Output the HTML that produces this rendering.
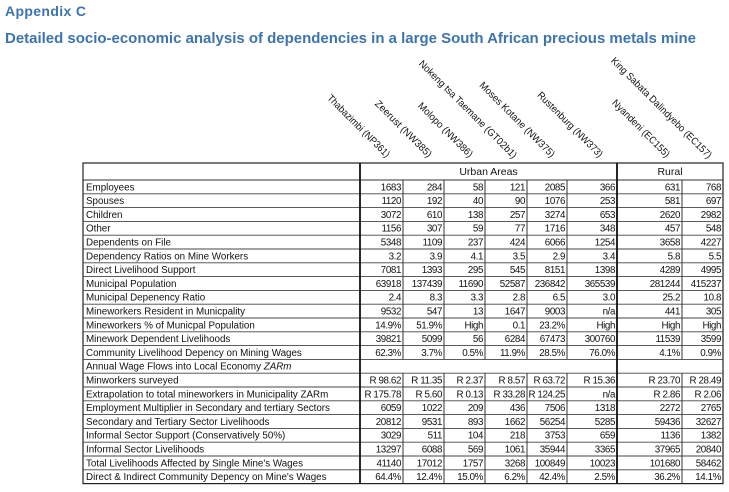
<!DOCTYPE html>
<html><head><meta charset="utf-8"><style>
html,body{margin:0;padding:0;background:#fff;width:729px;height:492px;overflow:hidden}
svg text{font-family:"Liberation Sans Narrow","Liberation Sans",sans-serif}
</style></head><body>
<svg id="s" width="729" height="492" viewBox="0 0 729 492">
<text x="5" y="16" font-size="14" font-weight="bold" fill="#3d74ad" style="font-family:'Liberation Sans',sans-serif" textLength="81">Appendix C</text>
<text x="5" y="43" font-size="15" font-weight="bold" fill="#3d74ad" style="font-family:'Liberation Sans',sans-serif" textLength="691" lengthAdjust="spacingAndGlyphs">Detailed socio-economic analysis of dependencies in a large South African precious metals mine</text>
</svg>
<script>
const columns=["Thabazimbi (NP361)","Zeerust (NW385)","Molopo (NW386)","Nokeng tsa Taemane (GT02b1)","Moses Kotane (NW375)","Rustenburg (NW373)","Nyandeni (EC155)","King Sabata Dalindyebo (EC157)"];
const rowLabels=["Employees","Spouses","Children","Other","Dependents on File","Dependency Ratios on Mine Workers","Direct Livelihood Support","Municipal Population","Municipal Depenency Ratio","Mineworkers Resident in Municpality","Mineworkers % of Municpal Population","Minework Dependent Livelihoods","Community Livelihood Depency on Mining Wages","Annual Wage Flows into Local Economy ZARm","Minworkers surveyed","Extrapolation to total mineworkers in Municipality ZARm","Employment Multiplier in Secondary and tertiary Sectors","Secondary and Tertiary Sector Livelihoods","Informal Sector Support (Conservatively 50%)","Informal Sector Livelihoods","Total Livelihoods Affected by Single Mine's Wages","Direct & Indirect Community Depency on Mine's Wages"];
const values=[
["1683","284","58","121","2085","366","631","768"],
["1120","192","40","90","1076","253","581","697"],
["3072","610","138","257","3274","653","2620","2982"],
["1156","307","59","77","1716","348","457","548"],
["5348","1109","237","424","6066","1254","3658","4227"],
["3.2","3.9","4.1","3.5","2.9","3.4","5.8","5.5"],
["7081","1393","295","545","8151","1398","4289","4995"],
["63918","137439","11690","52587","236842","365539","281244","415237"],
["2.4","8.3","3.3","2.8","6.5","3.0","25.2","10.8"],
["9532","547","13","1647","9003","n/a","441","305"],
["14.9%","51.9%","High","0.1","23.2%","High","High","High"],
["39821","5099","56","6284","67473","300760","11539","3599"],
["62.3%","3.7%","0.5%","11.9%","28.5%","76.0%","4.1%","0.9%"],
null,
["R 98.62","R 11.35","R 2.37","R 8.57","R 63.72","R 15.36","R 23.70","R 28.49"],
["R 175.78","R 5.60","R 0.13","R 33.28","R 124.25","n/a","R 2.86","R 2.06"],
["6059","1022","209","436","7506","1318","2272","2765"],
["20812","9531","893","1662","56254","5285","59436","32627"],
["3029","511","104","218","3753","659","1136","1382"],
["13297","6088","569","1061","35944","3365","37965","20840"],
["41140","17012","1757","3268","100849","10023","101680","58462"],
["64.4%","12.4%","15.0%","6.2%","42.4%","2.5%","36.2%","14.1%"]];
const NS="http://www.w3.org/2000/svg",s=document.getElementById("s");
function mk(t,a,txt){const e=document.createElementNS(NS,t);for(const k in a)e.setAttribute(k,a[k]);if(txt!=null)e.textContent=txt;s.appendChild(e);return e;}
const colX=[360,403,444,485,527,567,617,682,723];
const L=83,T=163,HH=17,RH=13.8;
const D=T+HH;
const bottom=D+rowLabels.length*RH;
const hdrLen=[84,76,73,134,102,88,77,138];
const hdrEnd=[[386,158],[428,158],[469,158],[513,159],[551,158],[599,158],[666,158],[708,159]];
columns.forEach((c,i)=>{
 const e=mk("text",{x:hdrEnd[i][0],y:hdrEnd[i][1],"font-size":"10","text-anchor":"end",textLength:hdrLen[i],lengthAdjust:"spacingAndGlyphs",transform:`rotate(45 ${hdrEnd[i][0]} ${hdrEnd[i][1]})`,fill:"#111"},c);
 
 
});
let r=mk("rect",{x:L,y:T,width:723-L,height:bottom-T,fill:"none",stroke:"#222","stroke-width":"1.2"});


mk("line",{x1:L,y1:D,x2:723,y2:D,stroke:"#333","stroke-width":"1"});
let g=mk("text",{x:(360+617)/2,y:T+12,"font-size":"10.5","text-anchor":"middle",fill:"#111"},"Urban Areas");


g=mk("text",{x:(617+723)/2,y:T+12,"font-size":"10.5","text-anchor":"middle",fill:"#111"},"Rural");


for(let i=1;i<rowLabels.length;i++){const y=D+i*RH;mk("line",{x1:L,y1:y,x2:723,y2:y,stroke:"#444","stroke-width":"0.9"});}
colX.slice(0,8).forEach((x,j)=>{
 const thick=(j===0||j===6);
 if(thick){mk("line",{x1:x,y1:T,x2:x,y2:bottom,stroke:"#111","stroke-width":"1.8"});}
 else{
  for(let i=0;i<rowLabels.length;i++){if(!values[i])continue;const y=D+i*RH;mk("line",{x1:x,y1:y,x2:x,y2:y+RH,stroke:"#333","stroke-width":"1"});}
 }
});
rowLabels.forEach((lab,i)=>{
 const y=D+i*RH+10.3;
 const t=mk("text",{x:L+3,y:y,"font-size":"9.8",fill:"#111"},lab.replace(" ZARm",""));
 if(lab.endsWith("ZARm")&&!values[i]){const ts=document.createElementNS(NS,"tspan");ts.setAttribute("font-style","italic");ts.textContent=" ZARm";t.appendChild(ts);}
 else if(lab.endsWith("ZARm")) t.textContent=lab;
 
 
 if(!values[i])return;
 values[i].forEach((v,j)=>{
  const c=mk("text",{x:colX[j+1]-2,y:y,"font-size":"9.8","text-anchor":"end",fill:"#111","letter-spacing":"-0.4"},v);
  
  
 });
});
</script>
</body></html>
